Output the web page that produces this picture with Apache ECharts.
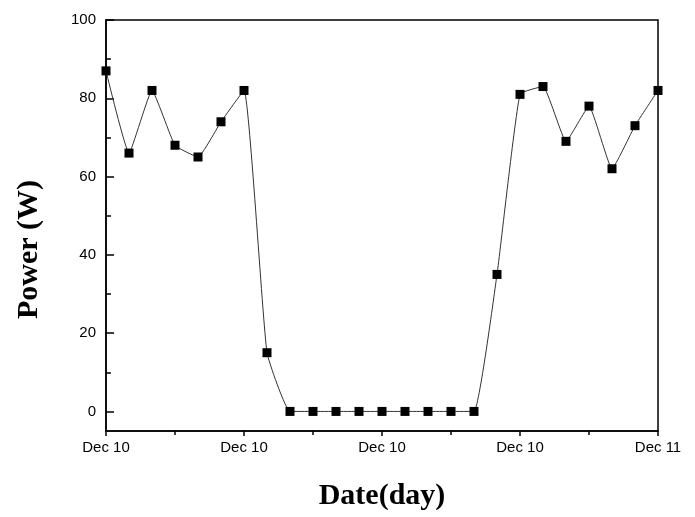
<!DOCTYPE html>
<html>
<head>
<meta charset="utf-8">
<script src="https://cdn.jsdelivr.net/npm/echarts@6/dist/echarts.min.js"></script>
<style>html,body{margin:0;padding:0;background:#fff}#c{width:695px;height:517px}</style>
</head>
<body>
<div id="c"></div>
<script>
const sampleIndex = [0,1,2,3,4,5,6,7,8,9,10,11,12,13,14,15,16,17,18,19,20,21,22,23,24];
const powerW = [87,66,82,68,65,74,82,15,0,0,0,0,0,0,0,0,0,35,81,83,69,78,62,73,82];
const xTickLabels = ['Dec 10','Dec 10','Dec 10','Dec 10','Dec 11'];
const yMajorTicks = [0,20,40,60,80,100];
const yMinorTicks = [10,30,50,70,90];

const chart = echarts.init(document.getElementById('c'), null, {renderer:'canvas'});
const data = sampleIndex.map((x,i)=>[x, powerW[i]]);
chart.setOption({
  animation:false,
  backgroundColor:'#fff',
  grid:{left:106,right:37,top:20,bottom:86,show:true,borderColor:'#000',borderWidth:1.5,backgroundColor:'transparent'},
  xAxis:{
    type:'value',min:0,max:24,interval:6,
    name:'Date(day)',nameLocation:'middle',nameGap:50,
    nameTextStyle:{fontFamily:'Liberation Serif',fontWeight:'bold',fontSize:30,color:'#000'},
    axisLine:{show:true,onZero:false,lineStyle:{color:'#000',width:1.5}},
    axisTick:{show:true,inside:false,length:5,lineStyle:{color:'#000',width:1.5}},
    minorTick:{show:true,splitNumber:2,length:4,lineStyle:{color:'#000',width:1.5}},
    splitLine:{show:false},minorSplitLine:{show:false},
    axisLabel:{margin:9,fontFamily:'Liberation Sans',fontSize:15,color:'#000',
      formatter:function(v){return xTickLabels[Math.round(v/6)];}}
  },
  yAxis:[{
    type:'value',min:-5,max:100,
    name:'Power (W)',nameLocation:'middle',nameGap:62,
    nameTextStyle:{fontFamily:'Liberation Serif',fontWeight:'bold',fontSize:30,color:'#000',padding:[0,48,0,0]},
    axisLine:{show:true,onZero:false,lineStyle:{color:'#000',width:1.5}},
    axisTick:{show:true,inside:true,length:8,customValues:yMajorTicks,lineStyle:{color:'#000',width:1.5}},
    splitLine:{show:false},
    axisLabel:{margin:10,fontFamily:'Liberation Sans',fontSize:15,color:'#000',customValues:yMajorTicks}
  },{
    type:'value',min:-5,max:100,position:'left',
    axisLine:{show:false,onZero:false},
    axisTick:{show:true,inside:true,length:5,customValues:yMinorTicks,lineStyle:{color:'#000',width:1.5}},
    splitLine:{show:false},
    axisLabel:{show:false}
  }],
  series:[{
    type:'line',data:data,yAxisIndex:0,
    smooth:0.12,
    symbol:'rect',symbolSize:9,
    itemStyle:{color:'#000'},
    lineStyle:{color:'#333',width:1}
  }]
});
</script>
</body>
</html>
